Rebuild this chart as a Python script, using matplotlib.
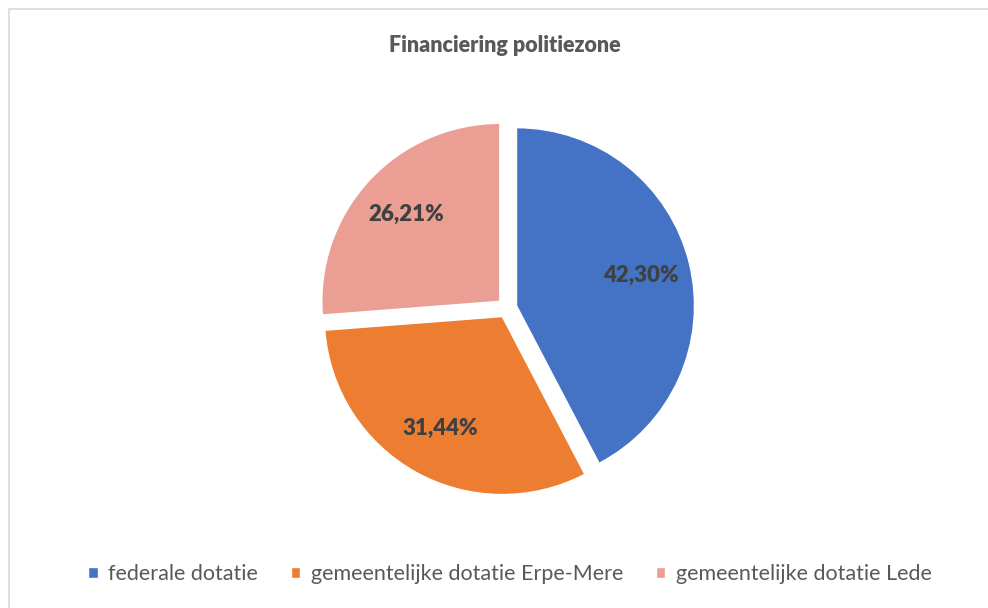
import matplotlib
matplotlib.use("Agg")
from matplotlib import pyplot as plt
from matplotlib.patches import Rectangle

labels = ["federale dotatie", "gemeentelijke dotatie Erpe-Mere", "gemeentelijke dotatie Lede"]
values = [42.30, 31.44, 26.21]
colors = ["#4472C4", "#ED7D31", "#EA9E94"]
title = "Financiering politiezone"

plt.rcParams['font.family'] = ['Lato', 'DejaVu Sans']

W, H = 988, 608
fig = plt.figure(figsize=(W / 100, H / 100), dpi=100)

# chart border (runs off the right and bottom edge)
fig.patches.append(Rectangle((9 / W, -0.1), 1.2, 1 - 9 / H + 0.1, transform=fig.transFigure,
                             fill=False, edgecolor="#D9D9D9", linewidth=1.2))

# pie: centre ~ (507, 308) px, radius ~178 px
r = 178
cx, cy = 507, 308
half = 1.5 * r
ax = fig.add_axes([(cx - half) / W, (H - cy - half) / H, 2 * half / W, 2 * half / H])

pct_labels = iter(f"{v:.2f}%".replace(".", ",") for v in values)
wedges, texts, autotexts = ax.pie(
    values, colors=colors, startangle=90, counterclock=False,
    explode=[0.055] * 3, radius=1,
    wedgeprops=dict(edgecolor="white", linewidth=1),
    autopct=lambda p: next(pct_labels), pctdistance=0.72,
    textprops=dict(color="#404040", fontsize=16, fontweight="heavy"))
ax.set_xlim(-1.5, 1.5)
ax.set_ylim(-1.5, 1.5)
ax.set_aspect("equal")
ax.axis("off")

fig.text(505 / W, 1 - 45 / H, title, ha="center", va="center",
         fontsize=15.5, fontweight="heavy", color="#595959")

leg = fig.legend(wedges, labels, loc="center", bbox_to_anchor=(510 / W, 1 - 574 / H),
                 ncol=3, frameon=False, handlelength=0.45, handleheight=0.45,
                 handletextpad=0.5, columnspacing=1.5, fontsize=15.5)
for t in leg.get_texts():
    t.set_color("#595959")

fig.savefig("out.png", dpi=100)
